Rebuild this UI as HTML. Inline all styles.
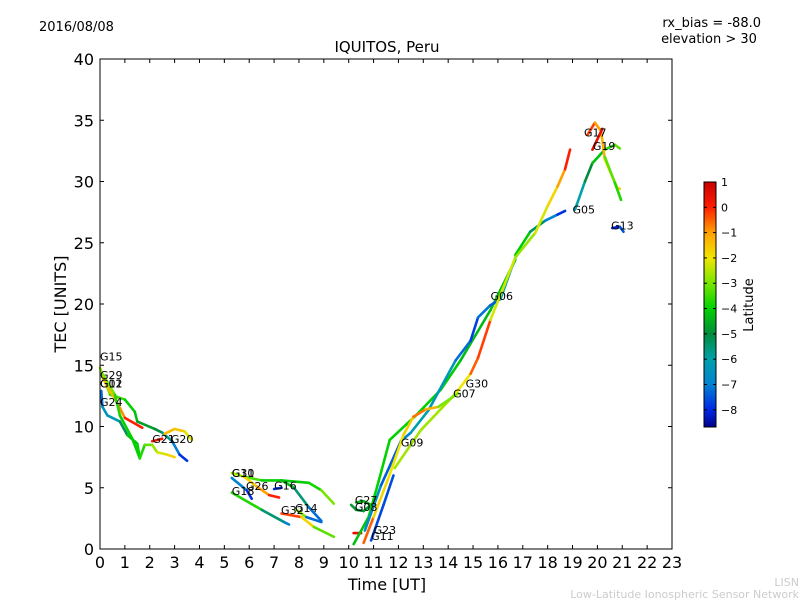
<!DOCTYPE html>
<html><head><meta charset="utf-8"><style>
body{margin:0;background:#fff;}
svg{display:block;font-family:"DejaVu Sans","Liberation Sans",sans-serif;}
</style></head><body>
<svg id="chart" width="800" height="600">
<rect width="800" height="600" fill="#fff"/>
<text x="39" y="31" font-size="13">2016/08/08</text>
<text x="761" y="27" font-size="13" text-anchor="end">rx_bias = -88.0</text>
<text x="709" y="43" font-size="13" text-anchor="middle">elevation &gt; 30</text>
<text x="387" y="52" font-size="15" text-anchor="middle">IQUITOS, Peru</text>
<text transform="translate(66,304) rotate(-90)" font-size="16" text-anchor="middle">TEC [UNITS]</text>
<text x="387" y="590" font-size="16" text-anchor="middle">Time [UT]</text>
<text transform="translate(753,305) rotate(-90)" font-size="13" text-anchor="middle">Latitude</text>
<text x="799" y="586" font-size="11" fill="#ccc" text-anchor="end">LISN</text>
<text x="799" y="598" font-size="11" fill="#ccc" text-anchor="end">Low-Latitude Ionospheric Sensor Network</text>
<g id="marks"></g><g id="labels"></g><g id="axes"></g>
</svg>
<script>
const xTicks=[0,1,2,3,4,5,6,7,8,9,10,11,12,13,14,15,16,17,18,19,20,21,22,23];
const yTicks=[0,5,10,15,20,25,30,35,40];
const cbTicks=[1,0,-1,-2,-3,-4,-5,-6,-7,-8];
const latMin=-8.68, latMax=1.0;
// tracks: [time, TEC, latitude]
const trkA=[[0,14.8,-2.5],[0.4,12.6,-3],[1.0,12.2,-4],[1.4,11.2,-4],[1.5,10.4,-4.5],[2.2,9.8,-5],[2.5,9.5,-5],[2.9,8.8,-6.5],[3.2,7.7,-7.5],[3.5,7.2,-8.3]];
const trkB=[[0.1,14.0,-1.5],[0.7,11.9,-1.2],[1.0,10.7,-0.5],[1.7,9.9,0.5]];
const trkC=[[0.05,12.9,-8],[0.1,11.6,-6.5],[0.3,10.9,-6.5],[0.8,10.4,-6],[1.1,9.3,-4.5],[1.5,8.6,-4],[1.6,7.4,-4]];
const trkD=[[0.1,14.3,-2.5],[0.6,12.6,-3.5],[0.8,10.9,-4],[1.3,9.0,-4],[1.6,7.4,-4],[1.8,8.5,-3.5],[2.1,8.5,-3],[2.3,7.9,-2.5],[2.7,7.7,-2],[3.0,7.5,-1.5]];
const trkE=[[2.6,9.4,-1.5],[3.0,9.8,-1.2],[3.4,9.6,-1.8],[3.7,8.9,-2.5]];
const trkF=[[2.1,8.8,0.5],[2.5,9.0,0]];
const trkG=[[5.3,6.2,-2.5],[5.8,5.9,-2.8],[6.5,5.6,-4],[7.3,5.6,-4],[8.4,5.4,-4.2],[8.9,4.8,-3.5],[9.4,3.7,-2.5]];
const trkH=[[5.3,5.8,-6.5],[5.9,4.8,-7.5],[6.1,4.1,-8.3]];
const trkI=[[5.8,5.9,-2],[6.3,5.1,-1.5],[6.8,4.4,-0.5],[7.2,4.2,0.5]];
const trkJ=[[7.0,4.9,-8],[7.3,5.0,-8]];
const trkK=[[7.3,5.6,-4],[7.8,5.0,-4.5],[8.4,3.4,-6.5],[8.9,2.3,-8]];
const trkL=[[5.3,4.6,-3],[6.5,3.2,-4.5],[7.4,2.2,-6.5],[7.6,2.0,-7.5]];
const trkM=[[7.3,2.9,0.5],[8.1,2.6,-1],[8.6,1.8,-2.5],[9.4,1.0,-4]];
const trkN=[[7.9,3.2,0.5],[8.3,2.6,-6.5],[8.9,2.2,-8]];
const trkO=[[10.1,3.6,-4.5],[10.3,3.2,-5],[10.6,3.1,-5],[10.9,3.6,-4.5],[10.6,3.9,-4.2],[10.3,3.8,-4.5]];
const trkRed=[[10.2,1.3,0.5],[10.5,1.3,0.5]];
const trkP=[[10.2,0.4,-4.5],[10.8,2.6,-4],[11.2,5.5,-4],[11.65,8.9,-4],[12.7,10.9,-4],[13.7,13.0,-4],[14.5,15.4,-4.2],[15.7,19.5,-4.5],[16.7,23.6,-4]];
const trkQ=[[10.65,1.5,-6.5],[11.3,5.2,-6.8],[12.1,8.8,-8],[12.5,9.5,-6],[13.2,11.3,-6],[14.3,15.4,-6.5],[14.9,17.0,-8],[15.2,18.9,-7.5],[15.7,19.9,-6.8],[16.1,20.4,-8],[16.7,23.8,-4]];
const trkR=[[11.85,6.6,-2.5],[12.9,9.7,-2.8],[14.3,12.7,-2.5],[14.9,14.3,-1.5],[15.2,15.6,0.5],[15.7,18.7,-1],[16.7,23.8,-3.5]];
const trkS=[[10.6,0.5,0],[11.0,2.6,-1],[11.6,5.8,-2.5],[12.2,9.3,-1.5],[12.6,10.8,-1.8],[13.1,11.4,0.5],[13.6,11.6,-3],[14.4,12.7,-3]];
const trkT=[[10.9,0.7,-8.3],[11.4,3.6,-7],[11.8,6.0,-8.2]];
const trkU=[[16.7,24.0,-4],[17.3,25.9,-4.2],[17.9,26.8,-6.5],[18.4,27.3,-7.5],[18.7,27.6,-8.3]];
const trkV=[[16.7,23.8,-3],[17.5,25.8,-2.5],[18.0,28.0,-2],[18.4,29.6,-1.5],[18.7,31.0,-0.5],[18.9,32.6,0.5]];
const trkW=[[19.1,27.7,-6.5],[19.5,30.0,-5.5],[19.8,31.5,-4.5],[20.3,32.6,-4],[20.7,33.0,-3.5],[20.9,32.7,-3]];
const trkX=[[19.6,33.8,0.5],[19.9,34.8,-1],[20.15,34.1,-1],[20.3,31.8,-1.5],[20.6,30.4,-2.5],[20.8,29.5,-1.8],[20.9,29.4,-1.5]];
const trkY=[[19.8,32.6,0.5],[20.2,34.3,0.5]];
const trkZ=[[20.3,32.0,-3],[20.7,29.9,-3.5],[20.95,28.5,-4]];
const trkG13=[[20.6,26.2,-8.3],[20.9,26.3,-8],[21.05,25.9,-7]];
const tracks=[trkA,trkB,trkC,trkD,trkE,trkF,trkG,trkH,trkI,trkJ,trkK,trkL,trkM,trkN,trkO,trkRed,trkP,trkQ,trkR,trkS,trkT,trkU,trkV,trkW,trkX,trkY,trkZ,trkG13];
const prnNames=["G15","G29","G01","G12","G24","G21","G20","G31","G10","G26","G18","G16","G32","G14","G27","G08","G23","G11","G09","G07","G30","G06","G05","G17","G19","G13"];
const prnTimes=[0,0,0,0,0,2.1,2.85,5.3,5.3,5.87,5.3,7.0,7.28,7.84,10.25,10.25,11.0,10.9,12.1,14.2,14.7,15.7,19.0,19.46,19.82,20.55];
const prnTec=[15.7,14.2,13.5,13.5,12.0,9.0,9.0,6.2,6.2,5.15,4.75,5.2,3.2,3.35,4.0,3.43,1.55,1.05,8.7,12.7,13.5,20.65,27.7,34.0,32.9,26.4];

const X0=100,X1=672,Y0=549,Y1=59,CBX=704,CBW=12,CBT=182,CBB=427;
const xs=t=>X0+(X1-X0)*t/23, ys=v=>Y0-(Y0-Y1)*v/40;
const cy=l=>CBB-(CBB-CBT)*(l-latMin)/(latMax-latMin);
const cmapStops=[[-8.68,0,0,140],[-8,0,40,230],[-7,0,130,210],[-6,0,160,170],[-5,0,140,60],[-4,0,210,0],[-3,120,230,0],[-2,240,230,0],[-1,255,160,0],[0,255,30,0],[1,200,0,0]];
function jet(l){
 if(l<=cmapStops[0][0])l=cmapStops[0][0];
 if(l>=cmapStops[cmapStops.length-1][0])l=cmapStops[cmapStops.length-1][0];
 for(let i=1;i<cmapStops.length;i++){
  const a=cmapStops[i-1],b=cmapStops[i];
  if(l<=b[0]){const f=(l-a[0])/(b[0]-a[0]);
   return `rgb(${Math.round(a[1]+(b[1]-a[1])*f)},${Math.round(a[2]+(b[2]-a[2])*f)},${Math.round(a[3]+(b[3]-a[3])*f)})`;}
 }
 return 'rgb(200,0,0)';
}
const NS="http://www.w3.org/2000/svg";
function mk(tag,attrs,parent){const e=document.createElementNS(NS,tag);for(const k in attrs)e.setAttribute(k,attrs[k]);parent.appendChild(e);return e;}
const marks=document.getElementById('marks'),labels=document.getElementById('labels'),axes=document.getElementById('axes');
tracks.forEach((tr,ti)=>{
 const g=mk('g',{},marks);
 
 
 for(let i=1;i<tr.length;i++){
  const a=tr[i-1],b=tr[i];
  const s=mk('line',{x1:xs(a[0]),y1:ys(a[1]),x2:xs(b[0]),y2:ys(b[1]),stroke:jet((a[2]+b[2])/2),'stroke-width':2.6,'stroke-linecap':'round'},g);
  
  
 }
});
prnNames.forEach((n,i)=>{
 const t=mk('text',{x:xs(prnTimes[i]),y:ys(prnTec[i])+4,'font-size':11},labels);
 t.textContent=n;
 
 
});
const frame=mk('rect',{x:X0,y:Y1,width:X1-X0,height:Y0-Y1,fill:'none',stroke:'#000','stroke-width':1},axes);


xTicks.forEach(v=>{
 const x=xs(v);
 mk('line',{x1:x,y1:Y0,x2:x,y2:Y0-4,stroke:'#000'},axes);
 mk('line',{x1:x,y1:Y1,x2:x,y2:Y1+4,stroke:'#000'},axes);
 const t=mk('text',{x:x,y:Y0+19,'font-size':16,'text-anchor':'middle'},axes);t.textContent=v;
 
 
});
yTicks.forEach(v=>{
 const y=ys(v);
 mk('line',{x1:X0,y1:y,x2:X0+4,y2:y,stroke:'#000'},axes);
 mk('line',{x1:X1,y1:y,x2:X1-4,y2:y,stroke:'#000'},axes);
 const t=mk('text',{x:X0-6,y:y+6,'font-size':16,'text-anchor':'end'},axes);t.textContent=v;
 
 
});
// colorbar
const cb=mk('g',{},axes);


for(let i=0;i<CBB-CBT;i++){
 const l=latMax-(latMax-latMin)*(i+0.5)/(CBB-CBT);
 mk('rect',{x:CBX,y:CBT+i,width:CBW,height:1.2,fill:jet(l)},cb);
}
mk('rect',{x:CBX,y:CBT,width:CBW,height:CBB-CBT,fill:'none',stroke:'#000'},cb);
cbTicks.forEach(v=>{
 const y=cy(v);
 mk('line',{x1:CBX,y1:y,x2:CBX+3,y2:y,stroke:'#000'},cb);
 mk('line',{x1:CBX+CBW,y1:y,x2:CBX+CBW-3,y2:y,stroke:'#000'},cb);
 const t=mk('text',{x:CBX+CBW+5,y:y+4,'font-size':11},cb);t.textContent=v<0?'\u2212'+(-v):v;
 
 
});
</script>
</body></html>
